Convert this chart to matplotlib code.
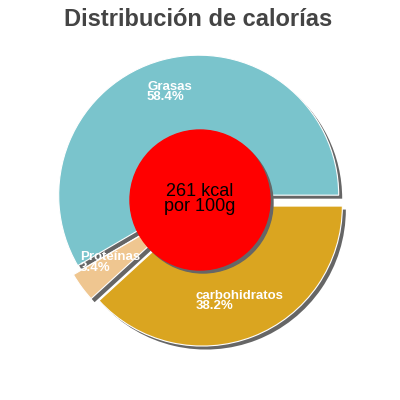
import matplotlib
matplotlib.use("Agg")
import matplotlib.pyplot as plt
from matplotlib.patches import Circle

title = "Distribución de calorías"
labels = ["Grasas", "Proteínas", "carbohidratos"]
values = [58.4, 3.4, 38.2]
pct_labels = ["58.4%", "3.4%", "38.2%"]
colors = ["#7ac4cc", "#efc690", "#daa520"]
center_text = "261 kcal\npor 100g"

plt.rcParams['font.family'] = ['Liberation Sans', 'DejaVu Sans']

fig = plt.figure(figsize=(4, 4), dpi=100)
ax = fig.add_axes([0, 0, 1, 1])

H = 400
cx, cy = 200, H - 200
R = 140
explode = [5, 7, 6.5]  # data units (pixels)

# shadow
ax.pie(values, explode=explode, colors=["#666666"] * 3, startangle=0,
       radius=R, center=(cx + 3.5, cy - 3.5), frame=True,
       wedgeprops=dict(linewidth=0))
# slices
ax.pie(values, explode=explode, colors=colors, startangle=0,
       radius=R, center=(cx, cy), frame=True,
       wedgeprops=dict(linewidth=0.8, edgecolor="white"))

# center circle with shadow
ax.add_patch(Circle((cx + 3, cy - 3), 70, color="#666666", zorder=5))
ax.add_patch(Circle((cx, cy), 70, color="#ff0000", zorder=6))
ax.text(cx, H - 199, center_text, ha="center", va="center", fontsize=13,
        color="black", linespacing=0.85, zorder=7)

label_pos = [(147, 80.5), (80, 251.5), (196, 290)]
for lab, pct, (x, y) in zip(labels, pct_labels, label_pos):
    ax.text(x, H - y, lab + "\n" + pct, ha="left", va="top", fontsize=9.5,
            fontweight="bold", color="white", linespacing=0.78, zorder=8)

ax.text(198, H - 7.5, title, ha="center", va="top", fontsize=17,
        fontweight="bold", color="#444444")

ax.set_xlim(0, 400)
ax.set_ylim(0, 400)
ax.set_aspect("equal")
ax.axis("off")

fig.savefig("out.png", dpi=100)
